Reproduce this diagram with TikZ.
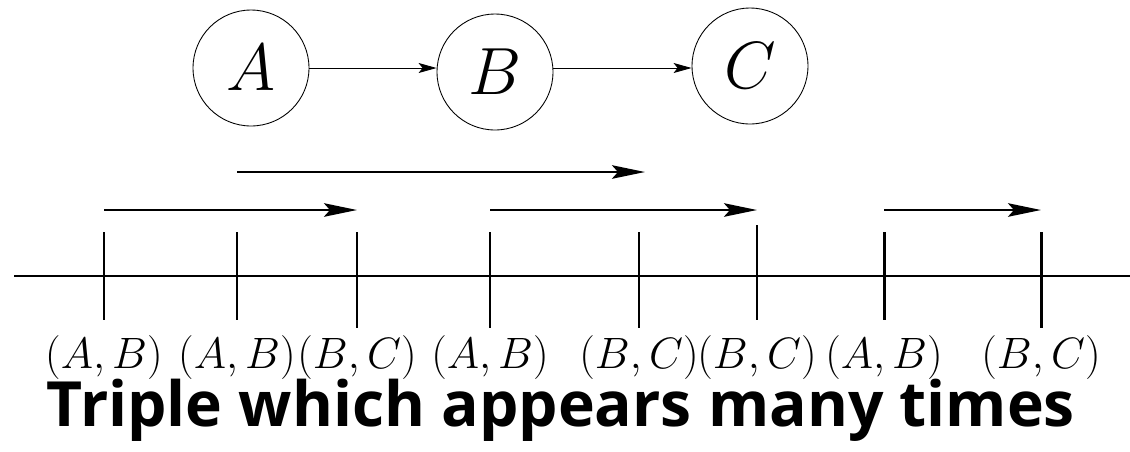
\RequirePackage{fix-cm}
\documentclass[tikz,border=0pt]{standalone}
\usepackage{amsmath}
\usepackage{fontspec}
\newfontfamily\titlefont{Open Sans}
\usetikzlibrary{arrows.meta, positioning}
\tikzset{
  % Graph styles
  vertex/.style={circle, draw=black, line width=0.5pt, minimum size=2.32cm, inner sep=0pt, font=\fontsize{38}{42}\selectfont},
  edge/.style={-{Stealth[length=0.36cm, width=0.2cm, inset=0.08cm]}, line width=0.5pt},
  % Timeline styles
  axis/.style={line width=1.1pt},
  event/.style={line width=1.7pt},
  span/.style={-{Stealth[length=0.66cm, width=0.27cm, inset=0.12cm]}, line width=1.4pt},
  pair/.style={font=\fontsize{25}{29}\selectfont, anchor=base, inner sep=0pt},
  caption/.style={font=\titlefont\bfseries\fontsize{35.5}{40}\selectfont, anchor=base, inner sep=0pt},
}
\begin{document}
\begin{tikzpicture}[x=0.02cm, y=-0.02cm]
    \useasboundingbox (0,0) rectangle (1130,451);
    % Graph A -> B -> C
    \node[vertex] (A) at (251,68) {$A$};
    \node[vertex] (B) at (495,72) {$B$};
    \node[vertex] (C) at (750,66) {$C$};
    \draw[edge] (A.east) -- (A.east -| B.west);
    \draw[edge] (B.east |- A.east) -- (A.east -| C.west);
    % Axis
    \coordinate (axl) at (14,276);
    \coordinate (axr) at (1130,276);
    \draw[axis] (axl) -- (axr);
    % Events: number / x / top / bottom / pair
    \foreach \n/\x/\t/\b/\p in {1/104/232/320/{(A,B)}, 2/237/232/320/{(A,B)}, 3/357/232/328/{(B,C)}, 4/490/232/328/{(A,B)},
                               5/639/232/328/{(B,C)}, 6/757/225/320/{(B,C)}, 7/884/232/320/{(A,B)}, 8/1041/232/328/{(B,C)}} {
      \draw[event] (\x,\t) -- (\x,\b);
      \coordinate (s\n) at (\x,210);
      \coordinate (u\n) at (\x,172);
      \node[pair] (p\n) at (\x,368) {$\p$};
    }
    % Spans between events
    \draw[span] (u2) -- ([xshift=0.12cm]u5);
    \draw[span] (s1) -- (s3);
    \draw[span] (s4) -- (s6);
    \draw[span] (s7) -- (s8);
    % Caption
    \node[caption] (title) at (561,426) {Triple which appears many times};
\end{tikzpicture}
\end{document}
